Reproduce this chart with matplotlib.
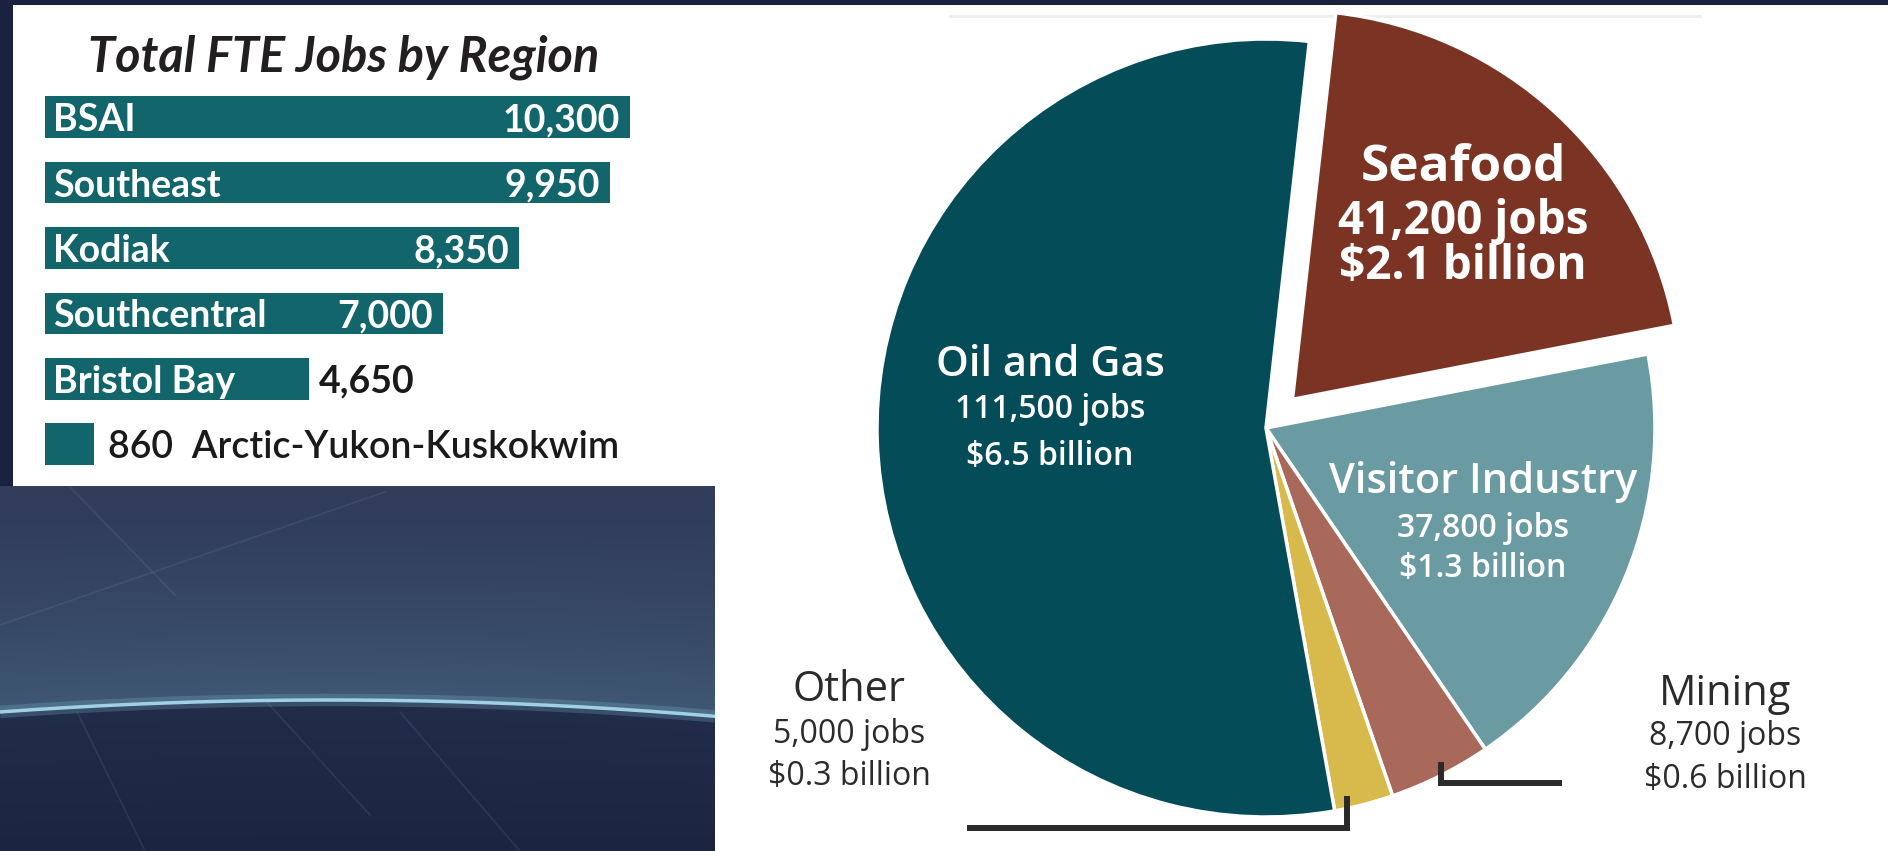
import numpy as np
import matplotlib.pyplot as plt
from matplotlib.patches import Rectangle

plt.rcParams['font.family'] = ['Lato', 'DejaVu Sans']

W, H = 1888, 851

# FTE jobs by region
regions = ["BSAI", "Southeast", "Kodiak", "Southcentral", "Bristol Bay", "Arctic-Yukon-Kuskokwim"]
region_jobs = [10300, 9950, 8350, 7000, 4650, 860]

# jobs and labor income by industry
industries = ["Seafood", "Visitor Industry", "Mining", "Other", "Oil and Gas"]
industry_jobs = [41200, 37800, 8700, 5000, 111500]
industry_income = [2.1, 1.3, 0.6, 0.3, 6.5]  # $ billion

pie_colors = ["#7b3424", "#6a9ba3", "#a8695b", "#d8b94b", "#054c59"]
bar_color = "#12656a"

fig = plt.figure(figsize=(W / 100, H / 100), dpi=100)
fig.patch.set_facecolor("#1b2240")

# --- background: slide backdrop + white panels (pixel coords) ---
bg = fig.add_axes([0, 0, 1, 1])
bg.set_xlim(0, W)
bg.set_ylim(H, 0)
bg.axis("off")


def horizon(x):
    return 700 + 1.1e-4 * (x - 330) ** 2


xs = np.arange(0, 716)
ys = np.arange(486, 852)
X, Y = np.meshgrid(xs, ys)
arc = horizon(X)
t = np.clip((Y - 486) / (arc - 486), 0, 1)[..., None] ** 1.5
c_top = np.array([49, 61, 90]) / 255
c_mid = np.array([63, 88, 114]) / 255
c_low = np.array([34, 45, 74]) / 255
c_bot = np.array([28, 37, 64]) / 255
tb = np.clip((Y - arc) / (851 - arc + 1e-9), 0, 1)[..., None]
img = np.where((Y < arc)[..., None], c_top * (1 - t) + c_mid * t, c_low * (1 - tb) + c_bot * tb)
bg.imshow(img, extent=(0, 715, 851, 486), origin="upper", aspect="auto", interpolation="bilinear")
arc_x = np.linspace(0, 715, 200)
bg.plot(arc_x, horizon(arc_x), color="#7fb6d2", lw=9, alpha=0.25, solid_capstyle="butt")
bg.plot(arc_x, horizon(arc_x), color="#9fd0e6", lw=2.5, solid_capstyle="butt")
for (x0, y0, x1, y1) in [(70, 487, 175, 595), (0, 625, 385, 492), (77, 712, 145, 851),
                         (265, 700, 370, 815), (400, 712, 520, 851)]:
    bg.plot([x0, x1], [y0, y1], color="#8aa6c8", lw=1.2, alpha=0.13)

bg.add_patch(Rectangle((13, 5), 715 - 13, 486 - 5, facecolor="white", edgecolor="none"))
bg.add_patch(Rectangle((715, 5), W - 715, H - 5, facecolor="white", edgecolor="none"))
bg.plot([950, 1700], [16, 16], color="#ededed", lw=2)
bg.set_xlim(0, W)
bg.set_ylim(H, 0)

# --- pie of jobs by industry ---
ax = fig.add_axes([0, 0, 1, 1])
ax.patch.set_alpha(0)
cx, cy, R = 1266, H - 428, 389
wedges, _ = ax.pie(industry_jobs, colors=pie_colors, startangle=83.6, counterclock=False,
                   explode=[39, 0, 0, 0, 0], radius=R, center=(cx, cy),
                   wedgeprops=dict(edgecolor="white", linewidth=2.5))
ax.set_xlim(0, W)
ax.set_ylim(0, H)
ax.set_aspect("equal")
ax.axis("off")

# label baselines, measured from the top
label_layout = {
    "Seafood": (1463, [181, 234, 279], [37, 33, 33], "bold", "white"),
    "Oil and Gas": (1050, [376, 418, 465], [30, 23, 23], "semibold", "white"),
    "Visitor Industry": (1483, [493, 537, 577], [30, 23, 23], "semibold", "white"),
    "Other": (849, [701, 743, 785], [30, 23, 23], "normal", "#2b2b2b"),
    "Mining": (1725, [705, 745, 788], [30, 23, 23], "normal", "#2b2b2b"),
}
for name, jobs, income in zip(industries, industry_jobs, industry_income):
    x, bases, sizes, weight, color = label_layout[name]
    lines = [name, f"{jobs:,} jobs", f"${income:.1f} billion"]
    for line, b, s in zip(lines, bases, sizes):
        ax.text(x, H - b, line, ha="center", va="baseline", fontsize=s,
                fontweight=weight, color=color, family=["Open Sans", "DejaVu Sans"])

# leader lines for the two small slices: (anchor fraction along wedge, level, end x)
leaders = {"Other": (0.26, 828, 967), "Mining": (0.56, 783, 1562)}
for name, w in zip(industries, wedges):
    if name not in leaders:
        continue
    frac, level, x_end = leaders[name]
    ang = np.deg2rad(w.theta1 + frac * (w.theta2 - w.theta1))
    x0 = cx + 0.97 * R * np.cos(ang)
    y0 = cy + 0.97 * R * np.sin(ang)
    ax.plot([x0, x0, x_end], [y0, H - level, H - level], color="#2a2a2a", lw=4.3,
            solid_joinstyle="miter", solid_capstyle="butt", clip_on=False)

# --- bars of jobs by region ---
px_per_job = 585 / 10300
bax = fig.add_axes([45 / W, (H - 480) / H, 660 / W, 390 / H])
bax.patch.set_alpha(0)
ypos = np.arange(len(regions))
bax.barh(ypos, region_jobs, height=0.635, color=bar_color)
bax.set_xlim(0, 660 / px_per_job)
bax.set_ylim(5.547, -0.416)
bax.axis("off")

pt = 72 / 100  # points per pixel
for i, (name, v) in enumerate(zip(regions, region_jobs)):
    if i == len(regions) - 1:
        bax.annotate(f"{v:,}  {name}", (v, i), xytext=(14 * pt, 0), textcoords="offset points",
                     ha="left", va="center_baseline", fontsize=27, fontweight="semibold", color="#1a1a1a")
        continue
    bax.annotate(name, (0, i), xytext=(8 * pt, 0), textcoords="offset points",
                 ha="left", va="center_baseline", fontsize=27, fontweight="bold", color="white")
    if v > 5000:
        bax.annotate(f"{v:,}", (v, i), xytext=(-10 * pt, 0), textcoords="offset points",
                     ha="right", va="center_baseline", fontsize=27, fontweight="bold", color="white")
    else:
        bax.annotate(f"{v:,}", (v, i), xytext=(10 * pt, 0), textcoords="offset points",
                     ha="left", va="center_baseline", fontsize=27, fontweight="bold", color="#1a1a1a")

fig.text(344 / W, 1 - 71 / H, "Total FTE Jobs by Region", ha="center", va="baseline",
         fontsize=35, fontstyle="italic", fontweight="bold", color="#231f20")

fig.savefig("out.png", dpi=100, facecolor=fig.get_facecolor())
